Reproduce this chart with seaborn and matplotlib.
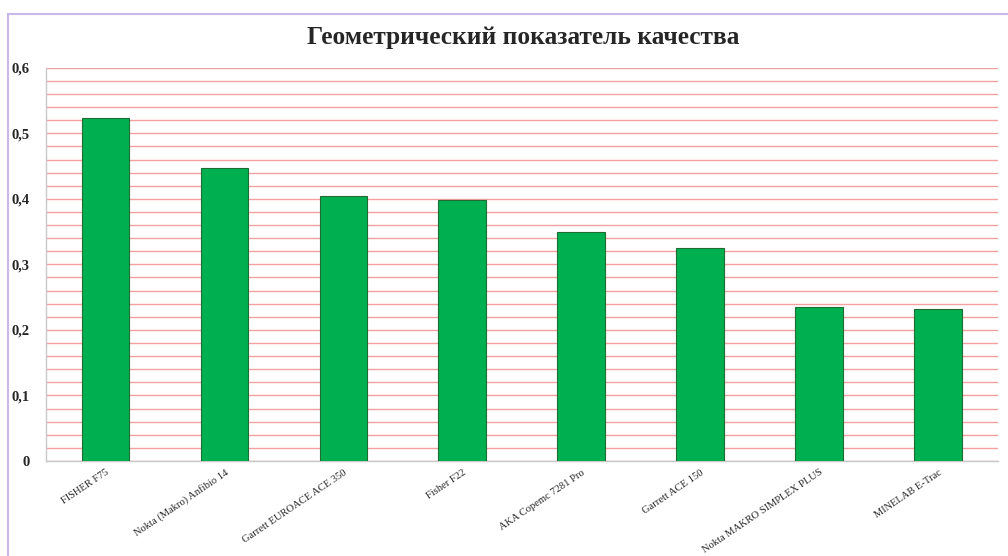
import matplotlib
matplotlib.use("Agg")
import matplotlib.pyplot as plt
import seaborn as sns
import pandas as pd
from matplotlib.patches import Rectangle
from matplotlib.ticker import MultipleLocator, FuncFormatter

categories = ["FISHER F75", "Nokta (Makro) Anfibio 14", "Garrett EUROACE ACE 350",
              "Fisher F22", "AKA Copemc 7281 Pro", "Garrett ACE 150",
              "Nokta MAKRO SIMPLEX PLUS", "MINELAB E-Trac"]
values = [0.524, 0.447, 0.405, 0.398, 0.350, 0.325, 0.235, 0.232]

sns.set_theme(style="white")
plt.rcParams['font.family'] = ['Liberation Serif', 'DejaVu Serif']

df = pd.DataFrame({"cat": categories, "val": values})

fig = plt.figure(figsize=(10.08, 5.56), dpi=100)
ax = fig.add_axes([0.0456, 0.171, 0.944, 0.707])

sns.barplot(data=df, x="cat", y="val", ax=ax, color="#00B050", saturation=1,
            width=0.4, edgecolor="#1E6B34", linewidth=0.8, zorder=3)

ax.set_ylim(0, 0.6)
ax.set_xlim(-0.5, len(categories) - 0.5)
ax.yaxis.set_major_locator(MultipleLocator(0.1))
ax.yaxis.set_minor_locator(MultipleLocator(0.02))
ax.yaxis.set_major_formatter(FuncFormatter(lambda v, p: "0" if abs(v) < 1e-9 else f"{v:.1f}".replace(".", ",")))
ax.grid(axis="y", which="both", color="#F2A0A0", linewidth=1.0, zorder=0)
ax.set_axisbelow(True)
ax.tick_params(axis="y", which="both", length=0, labelsize=10.5, pad=12)
ax.tick_params(axis="x", length=0, labelsize=7.6, pad=5)
for lbl in ax.get_yticklabels():
    lbl.set_fontweight("bold")
ax.set_xticks(range(len(categories)))
ax.set_xticklabels(categories, rotation=34, ha="right", rotation_mode="anchor")
ax.set_xlabel("")
ax.set_ylabel("")
for s in ["top", "right"]:
    ax.spines[s].set_visible(False)
ax.spines["left"].set_color("#C8C8C8")
ax.spines["bottom"].set_color("#C8C8C8")
ax.spines["left"].set_linewidth(1.0)
ax.spines["bottom"].set_linewidth(1.0)

fig.text(0.519, 0.933, "Геометрический показатель качества", ha="center", va="center",
         fontsize=18.3, fontweight="bold")

fig.patches.append(Rectangle((8 / 1008, -0.1), 1.2, 1 - 14 / 556 + 0.1, transform=fig.transFigure,
                             fill=False, edgecolor="#C9B8E8", linewidth=1.5))

fig.savefig("out.png", dpi=100)
